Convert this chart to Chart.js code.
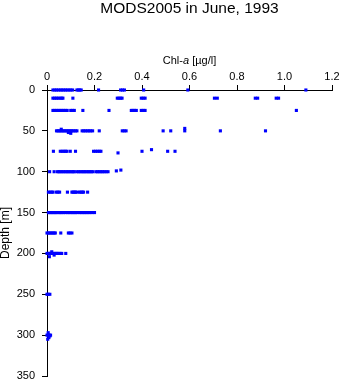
<!DOCTYPE html>
<html>
<head>
<meta charset="utf-8">
<script src="https://cdn.jsdelivr.net/npm/chart.js@4"></script>
<style>
  html, body { margin: 0; padding: 0; background: #fff; }
  #myChart { display: block; }
</style>
</head>
<body>
<canvas id="myChart" width="343" height="384"></canvas>
<script>
const FONT = "'Liberation Sans', Arial, sans-serif";

// sampling depths [m]
const depthLevels = [0, 10, 25, 50, 75, 100, 125, 150, 175, 200, 250, 300];

// Chl-a [µg/l] read at each depth level
const chl0 = [0.025, 0.033, 0.04, 0.048, 0.056, 0.063, 0.07, 0.078, 0.085, 0.093, 0.1, 0.108,
  0.126, 0.132, 0.138, 0.144, 0.217, 0.31, 0.318, 0.326, 0.407, 0.593, 1.09];
const chl10 = [0.025, 0.032, 0.04, 0.047, 0.055, 0.062, 0.067, 0.109, 0.296, 0.303, 0.31, 0.316,
  0.397, 0.405, 0.413, 0.705, 0.717, 0.877, 0.887, 0.965, 0.975];
const chl25 = [0.025, 0.032, 0.04, 0.047, 0.055, 0.062, 0.07, 0.077, 0.085, 0.1, 0.108, 0.115,
  0.151, 0.261, 0.355, 0.362, 0.369, 0.376, 0.397, 0.405, 0.413, 1.05];
const chl50 = [0.04, 0.046, 0.052, 0.058, 0.064, 0.07, 0.076, 0.082, 0.088, 0.094, 0.1, 0.106,
  0.112, 0.12, 0.126, 0.148, 0.155, 0.162, 0.17, 0.177, 0.184, 0.192, 0.22, 0.317, 0.325,
  0.333, 0.489, 0.521, 0.58, 0.73, 0.92];
const chl75 = [0.027, 0.056, 0.064, 0.071, 0.078, 0.084, 0.098, 0.12, 0.196, 0.204, 0.212,
  0.22, 0.227, 0.40, 0.508, 0.539];
const chl100 = [0.011, 0.03, 0.044, 0.05, 0.056, 0.063, 0.07, 0.077, 0.084, 0.09, 0.097, 0.104,
  0.11, 0.115, 0.126, 0.133, 0.14, 0.147, 0.154, 0.16, 0.167, 0.174, 0.18, 0.187, 0.193,
  0.206, 0.213, 0.22, 0.227, 0.234, 0.241, 0.249, 0.257];
const chl125 = [0.006, 0.013, 0.02, 0.025, 0.039, 0.046, 0.053, 0.086, 0.105, 0.11, 0.115,
  0.12, 0.126, 0.137, 0.143, 0.149, 0.154, 0.171];
const chl150 = [0.006, 0.012, 0.018, 0.024, 0.03, 0.036, 0.042, 0.05, 0.056, 0.062, 0.07,
  0.077, 0.086, 0.093, 0.1, 0.107, 0.113, 0.12, 0.126, 0.137, 0.144, 0.151, 0.158, 0.165,
  0.172, 0.18, 0.189, 0.20];
const chl175 = [0.0, 0.006, 0.012, 0.018, 0.024, 0.03, 0.035, 0.058, 0.09, 0.097, 0.105];
const chl200 = [0.0, 0.005, 0.01, 0.015, 0.02, 0.025, 0.03, 0.035, 0.04, 0.045, 0.05, 0.056,
  0.062, 0.079];
const chl250 = [0.0, 0.005, 0.012];
const chl300 = [0.0, 0.005, 0.01, 0.015];

// a few samples a little off the standard depths
const offDepth = [48, 52, 47, 53, 77, 73, 98, 99, 198, 202, 204, 297, 303, 305, 301];
const offChl = [0.06, 0.09, 0.58, 0.1, 0.299, 0.44, 0.311, 0.292, 0.02, 0.03, 0.01,
  0.005, 0.008, 0.003, 0.012];

const chlByLevel = [chl0, chl10, chl25, chl50, chl75, chl100, chl125, chl150, chl175,
  chl200, chl250, chl300];

const xTicks = [0, 0.2, 0.4, 0.6, 0.8, 1, 1.2];
const yTicks = [0, 50, 100, 150, 200, 250, 300, 350];

const points = [];
chlByLevel.forEach((vals, i) => {
  vals.forEach((v) => points.push({ x: v, y: depthLevels[i] }));
});
offChl.forEach((v, i) => points.push({ x: v, y: offDepth[i] }));

// chart title + x axis title (italic "a"), centred over the plot area
const titles = {
  id: "titles",
  afterDraw(chart) {
    const { ctx, chartArea } = chart;
    const cx = (chartArea.left + chartArea.right) / 2;
    ctx.save();
    ctx.fillStyle = "#000";
    ctx.textBaseline = "middle";
    ctx.textAlign = "center";
    ctx.font = "15.5px " + FONT;
    ctx.fillText("MODS2005 in June, 1993", cx, 9);

    const parts = [
      { t: "Chl-", f: "11px " + FONT },
      { t: "a", f: "italic 11px " + FONT },
      { t: " [µg/l]", f: "11px " + FONT },
    ];
    ctx.textAlign = "left";
    let w = 0;
    parts.forEach((p) => { ctx.font = p.f; w += ctx.measureText(p.t).width; });
    let x = cx - w / 2;
    parts.forEach((p) => {
      ctx.font = p.f;
      ctx.fillText(p.t, x, 61);
      x += ctx.measureText(p.t).width;
    });
    ctx.restore();
  },
};

const config = {
  type: "scatter",
  data: {
    datasets: [
      {
        data: points,
        backgroundColor: "#0000ff",
        borderColor: "#0000ff",
        borderWidth: 0,
        pointStyle: "rect",
        pointRadius: 2.2,
        pointHoverRadius: 2.2,
        clip: false,
      },
    ],
  },
  options: {
    responsive: false,
    animation: false,
    events: [],
    layout: { padding: { top: 18, right: 11, bottom: 8, left: 0 } },
    plugins: {
      legend: { display: false },
      tooltip: { enabled: false },
      title: { display: false },
    },
    scales: {
      x: {
        type: "linear",
        position: "top",
        min: 0,
        max: 1.2,
        afterBuildTicks: (s) => { s.ticks = xTicks.map((v) => ({ value: v })); },
        ticks: { color: "#000", font: { family: FONT, size: 11 }, padding: 1, maxRotation: 0 },
        grid: { drawOnChartArea: false, tickLength: 5, color: "#000" },
        border: { color: "#000" },
        afterFit: (s) => { s.height = 72; s.paddingLeft = 0; s.paddingRight = 0; },
      },
      y: {
        type: "linear",
        reverse: true,
        min: 0,
        max: 350,
        afterBuildTicks: (s) => { s.ticks = yTicks.map((v) => ({ value: v })); },
        ticks: { color: "#000", font: { family: FONT, size: 11 }, padding: 7 },
        grid: { drawOnChartArea: false, tickLength: 5, color: "#000" },
        border: { color: "#000" },
        title: {
          display: true,
          text: "Depth [m]",
          color: "#000",
          font: { family: FONT, size: 12, lineHeight: 1 },
          padding: 0,
        },
        afterFit: (s) => { s.width = 47; s.paddingTop = 0; s.paddingBottom = 0; },
      },
    },
  },
  plugins: [titles],
};

const ctx = document.getElementById("myChart");
const myChart = new Chart(ctx, config);
</script>
</body>
</html>
